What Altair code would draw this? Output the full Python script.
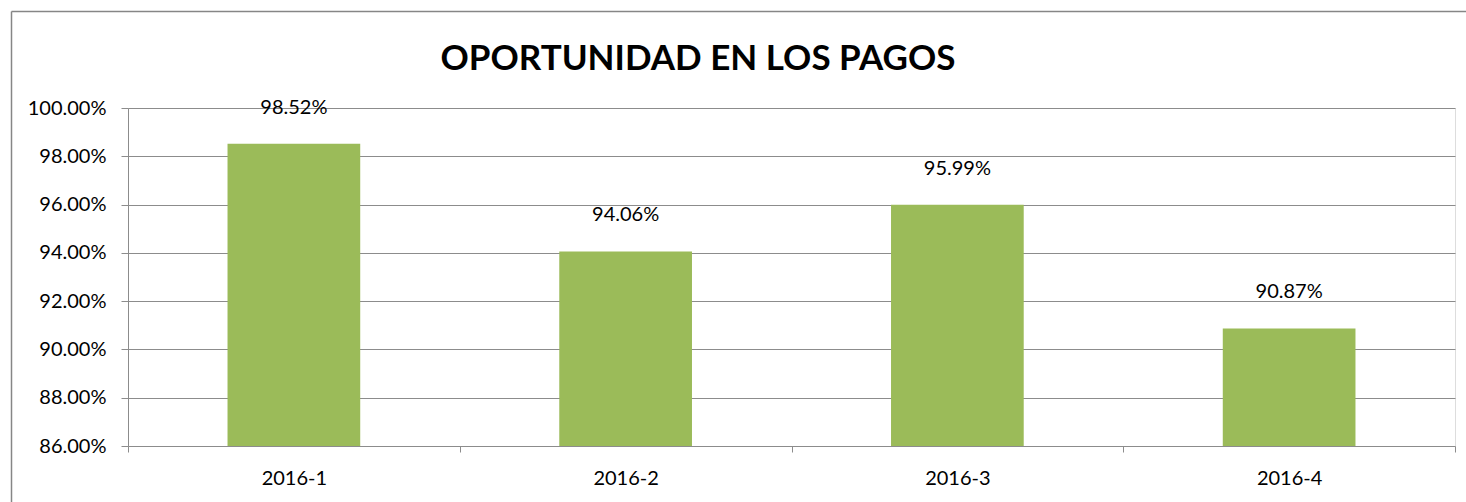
import altair as alt
import pandas as pd

categories = ["2016-1", "2016-2", "2016-3", "2016-4"]
values = [0.9852, 0.9406, 0.9599, 0.9087]
title_text = "OPORTUNIDAD EN LOS PAGOS"
y_ticks = [0.86, 0.88, 0.90, 0.92, 0.94, 0.96, 0.98, 1.00]

df = pd.DataFrame({"cat": categories, "val": values})

FONT = "Lato"
GRID = "#8c8c8c"

x_enc = alt.X(
    "cat:N",
    sort=categories,
    title=None,
    scale=alt.Scale(paddingInner=0, paddingOuter=0),
    axis=alt.Axis(
        tickBand="extent",
        labelAngle=0,
        labelFontSize=20,
        labelFont=FONT,
        labelColor="#000000",
        labelPadding=16,
        tickColor=GRID,
        tickSize=6,
        domain=False,
        grid=False,
    ),
)
y_scale = alt.Scale(domain=[0.86, 1.0], zero=False, nice=False)

bars = alt.Chart(df).mark_bar(
    color="#9BBB59", width=alt.RelativeBandSize(0.4)
).encode(
    x=x_enc,
    y=alt.Y(
        "val:Q",
        scale=y_scale,
        title=None,
        axis=alt.Axis(
            values=y_ticks,
            format=".2%",
            labelFontSize=20,
            labelFont=FONT,
            labelColor="#000000",
            labelPadding=15,
            tickColor=GRID,
            tickSize=7,
            domainColor=GRID,
            gridColor=GRID,
            gridWidth=1.2,
        ),
    ),
    y2=alt.datum(0.86),
)

labels = alt.Chart(df).mark_text(
    font=FONT, fontSize=20, color="#000000", baseline="middle", dy=-36
).encode(
    x=alt.X("cat:N", sort=categories),
    y=alt.Y("val:Q", scale=y_scale),
    text=alt.Text("val:Q", format=".2%"),
)

title = alt.Chart(pd.DataFrame({"t": [title_text]})).mark_text(
    font=FONT, fontSize=35, fontWeight="bold", color="#000000", baseline="middle"
).encode(
    x=alt.value(570),
    y=alt.value(-49),
    text="t:N",
)

frame = pd.DataFrame({"a": [0]})
border_left = alt.Chart(frame).mark_rule(color="#868686", strokeWidth=1.5).encode(
    x=alt.value(-116.5),
    y=alt.value(-96.5),
    y2=alt.value(394),
)
border_top = alt.Chart(frame).mark_rule(color="#868686", strokeWidth=1.5).encode(
    x=alt.value(-116.5),
    x2=alt.value(1338),
    y=alt.value(-96.5),
)

chart = alt.layer(border_left, border_top, bars, labels, title).properties(
    width=1327,
    height=338,
    autosize=alt.AutoSizeParams(type="none"),
    padding={"left": 128, "top": 108, "right": 11, "bottom": 56},
).configure_view(stroke=None).configure(background="white")

chart.save("out.html", embed_options={"renderer": "svg", "actions": False})
